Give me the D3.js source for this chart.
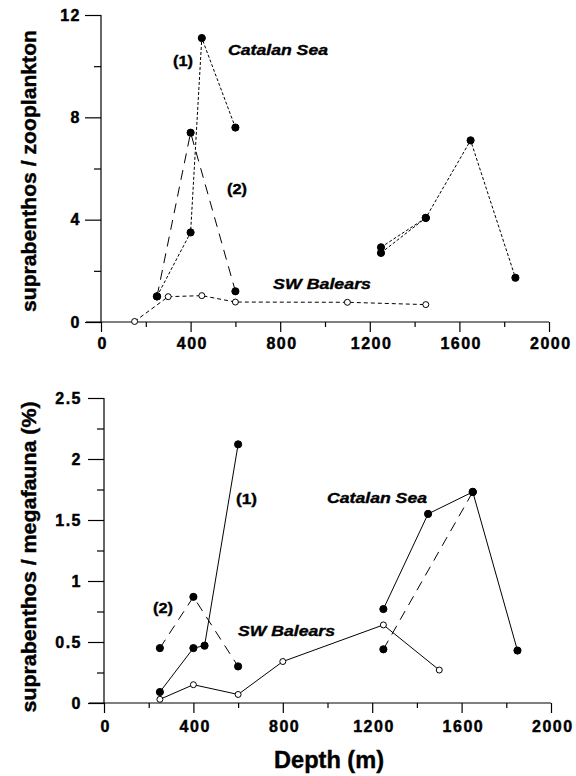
<!DOCTYPE html>
<html><head><meta charset="utf-8">
<script src="https://cdn.jsdelivr.net/npm/d3@7"></script>
<style>
html,body{margin:0;padding:0;background:#fff;}
text{font-family:"Liberation Sans",Arial,sans-serif;}
</style></head>
<body>
<svg id="c" width="576" height="776"></svg>
<script>
// ---- Data ----
const xTicks = [0, 400, 800, 1200, 1600, 2000];
const topYTicks = [0, 4, 8, 12];
const botYTicks = [0, 0.5, 1, 1.5, 2, 2.5];
const botYTickLabels = ["0", "0.5", "1", "1.5", "2", "2.5"];

// top panel: suprabenthos / zooplankton
const topCat1Depth = [250, 400, 450, 600];
const topCat1Val   = [1.0, 3.5, 11.1, 7.6];
const topCat2Depth = [250, 400, 600];
const topCat2Val   = [1.0, 7.4, 1.2];
const topDeepADepth = [1250, 1450, 1650, 1850];
const topDeepAVal   = [2.7, 4.07, 7.1, 1.73];
const topDeepBDepth = [1250, 1450];
const topDeepBVal   = [2.92, 4.07];
const topSWDepth = [150, 300, 450, 600, 1100, 1450];
const topSWVal   = [0.02, 0.99, 1.03, 0.78, 0.77, 0.68];

// bottom panel: suprabenthos / megafauna (%)
const botCat1Depth = [250, 400, 450, 600];
const botCat1Val   = [0.09, 0.45, 0.47, 2.12];
const botCat2Depth = [250, 400, 600];
const botCat2Val   = [0.45, 0.87, 0.30];
const botDeepADepth = [1250, 1450, 1650, 1850];
const botDeepAVal   = [0.77, 1.55, 1.73, 0.43];
const botDeepBDepth = [1250, 1650];
const botDeepBVal   = [0.44, 1.73];
const botSWDepth = [250, 400, 600, 800, 1250, 1500];
const botSWVal   = [0.03, 0.15, 0.07, 0.34, 0.64, 0.27];

const zip = (a, b) => a.map((d, i) => [d, b[i]]);
const svg = d3.select("#c");

function heavy(sel, size) {
  sel.attr("font-size", size).attr("font-weight", "bold").attr("fill", "#000")
    .attr("stroke", "#000").attr("stroke-width", 0.45).attr("letter-spacing", 1.5);
}

function panel(cfg) {
  const x = d3.scaleLinear().domain([0, 2000]).range(cfg.xr);
  const y = d3.scaleLinear().domain(cfg.yd).range(cfg.yr);
  const g = svg.append("g");

  g.append("line").attr("x1", cfg.xr[0] - 15).attr("x2", cfg.xr[1])
    .attr("y1", cfg.yr[0]).attr("y2", cfg.yr[0]).attr("stroke", "#000").attr("stroke-width", 1.2);

  const xMinor = g.append("g").attr("transform", `translate(0,${cfg.yr[0]})`)
    .call(d3.axisBottom(x).tickValues(d3.range(200, 2000, 400)).tickSize(5).tickFormat(""));
  xMinor.select(".domain").remove();
  const xAx = g.append("g").attr("transform", `translate(0,${cfg.yr[0]})`)
    .call(d3.axisBottom(x).tickValues(xTicks).tickSize(10).tickPadding(cfg.xpad).tickFormat(d3.format("d")));
  xAx.select(".domain").remove();
  heavy(xAx.selectAll("text"), 16);
  xAx.selectAll("text").attr("dx", "0.08em");

  const yMinor = g.append("g").attr("transform", `translate(${cfg.xr[0]},0)`)
    .call(d3.axisLeft(y).tickValues(cfg.yMinor).tickSize(7).tickFormat(""));
  yMinor.select(".domain").remove();
  const yAx = g.append("g").attr("transform", `translate(${cfg.xr[0]},0)`)
    .call(d3.axisLeft(y).tickValues(cfg.yTicks).tickSize(16).tickPadding(cfg.ypad)
      .tickFormat((d, i) => cfg.yLabels ? cfg.yLabels[i] : d));
  yAx.select(".domain").attr("stroke-width", 1.2).attr("d", `M0,${cfg.yr[0]}V${cfg.yr[1]}`);
  heavy(yAx.selectAll("text"), 16);
  g.selectAll(".tick line").attr("stroke-width", 1.2);

  const line = d3.line().x(d => x(d[0])).y(d => y(d[1]));
  cfg.series.forEach(s => {
    g.append("path").attr("d", line(s.pts)).attr("fill", "none").attr("stroke", "#000")
      .attr("stroke-width", s.w || 1).attr("stroke-dasharray", s.dash || null);
  });
  cfg.series.forEach(s => {
    g.selectAll(null).data(s.pts).enter().append("circle")
      .attr("cx", d => x(d[0])).attr("cy", d => y(d[1])).attr("r", s.open ? 3 : 3.6)
      .attr("fill", s.open ? "#fff" : "#000").attr("stroke", "#000").attr("stroke-width", 1);
  });

  cfg.labels.forEach(l => {
    const t = g.append("text").attr("x", l.x).attr("y", l.y).text(l.t)
      .attr("font-size", 14).attr("font-weight", "bold")
      .attr("font-style", l.it ? "italic" : "normal").attr("fill", "#000")
      .attr("stroke", "#000").attr("stroke-width", 0.35);
    if (l.w) t.attr("textLength", l.w).attr("lengthAdjust", "spacingAndGlyphs");
  });

  svg.append("text").attr("transform", `translate(${cfg.titleX},${cfg.titleY}) rotate(-90)`)
    .attr("text-anchor", "middle").attr("font-size", 20).attr("font-weight", "bold")
    .attr("stroke", "#000").attr("stroke-width", 0.4)
    .attr("textLength", cfg.titleLen).attr("lengthAdjust", "spacingAndGlyphs").text(cfg.title);
}

panel({
  xr: [101, 549], yd: [0, 12], yr: [322, 15], xpad: 6, ypad: 4,
  yTicks: topYTicks, yMinor: [2, 6, 10],
  title: "suprabenthos / zooplankton", titleX: 36, titleY: 171, titleLen: 282,
  series: [
    {pts: zip(topCat1Depth, topCat1Val), dash: "3,2"},
    {pts: zip(topCat2Depth, topCat2Val), dash: "10,7"},
    {pts: zip(topDeepADepth, topDeepAVal), dash: "3,2"},
    {pts: zip(topDeepBDepth, topDeepBVal), dash: "3,2"},
    {pts: zip(topSWDepth, topSWVal), dash: "4,3", open: true}
  ],
  labels: [
    {t: "(1)", x: 173, y: 66, w: 20},
    {t: "Catalan Sea", x: 228, y: 55, it: true, w: 100},
    {t: "(2)", x: 227, y: 194, w: 20},
    {t: "SW Balears", x: 273, y: 289, it: true, w: 98}
  ]
});

panel({
  xr: [104, 551], yd: [0, 2.5], yr: [703, 398], xpad: 8, ypad: 6,
  yTicks: botYTicks, yLabels: botYTickLabels, yMinor: [0.25, 0.75, 1.25, 1.75, 2.25],
  title: "suprabenthos / megafauna (%)", titleX: 36, titleY: 557, titleLen: 311,
  series: [
    {pts: zip(botCat1Depth, botCat1Val)},
    {pts: zip(botCat2Depth, botCat2Val), dash: "10,7"},
    {pts: zip(botDeepADepth, botDeepAVal)},
    {pts: zip(botDeepBDepth, botDeepBVal), dash: "10,7"},
    {pts: zip(botSWDepth, botSWVal), open: true}
  ],
  labels: [
    {t: "(1)", x: 236, y: 504, w: 21},
    {t: "(2)", x: 153, y: 613, w: 20},
    {t: "SW Balears", x: 238, y: 636, it: true, w: 97},
    {t: "Catalan Sea", x: 327, y: 503, it: true, w: 100}
  ]
});

svg.append("text").attr("x", 329).attr("y", 768).attr("text-anchor", "middle")
  .attr("font-size", 23).attr("font-weight", "bold").attr("stroke", "#000").attr("stroke-width", 0.4)
  .attr("textLength", 110).attr("lengthAdjust", "spacingAndGlyphs").text("Depth (m)");
</script>
</body></html>
